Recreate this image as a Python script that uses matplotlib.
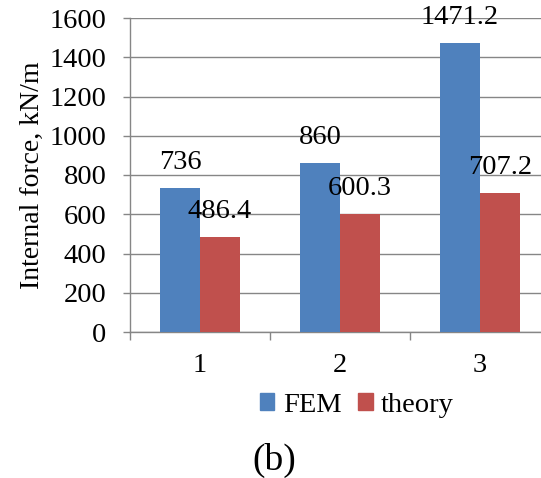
import numpy as np
import matplotlib.pyplot as plt
from matplotlib.patches import Patch

# data
categories = ['1', '2', '3']
fem = [736, 860, 1471.2]
theory = [486.4, 600.3, 707.2]
fem_labels = ['736', '860', '1471.2']
theory_labels = ['486.4', '600.3', '707.2']
yticks = [0, 200, 400, 600, 800, 1000, 1200, 1400, 1600]

plt.rcParams['font.family'] = ['Liberation Serif', 'DejaVu Serif']

blue = '#4F81BD'
red = '#C0504D'
gray = '#868686'
fs = 20.5

fig = plt.figure(figsize=(5.41, 4.78), dpi=100)
# plot area runs a bit past the right edge of the picture, as in the source
ax = fig.add_axes([130 / 541, 146 / 478, 420 / 541, 314 / 478])

x = np.arange(len(categories))
w = 0.286
ax.bar(x - w / 2, fem, w, color=blue, zorder=3)
ax.bar(x + w / 2, theory, w, color=red, zorder=3)

for xi, v, s in zip(x, fem, fem_labels):
    ax.text(xi - w / 2, v + 130, s, ha='center', va='center', fontsize=fs, zorder=4)
for xi, v, s in zip(x, theory, theory_labels):
    ax.text(xi + w / 2, v + 130, s, ha='center', va='center', fontsize=fs, zorder=4)

ax.set_xlim(-0.5, 2.5)
ax.set_ylim(0, 1600)
ax.set_yticks(yticks)
ax.set_xticks(x)
ax.set_xticklabels(categories)
ax.set_xticks([-0.5, 0.5, 1.5, 2.5], minor=True)
ax.tick_params(axis='x', which='major', length=0, labelsize=fs, pad=15)
ax.tick_params(axis='x', which='minor', length=6, color=gray, width=1)
ax.tick_params(axis='y', length=5, color=gray, width=1, labelsize=fs, pad=12)
ax.yaxis.grid(True, color=gray, linewidth=1, zorder=0)

for side in ['top', 'right']:
    ax.spines[side].set_visible(False)
for side in ['left', 'bottom']:
    ax.spines[side].set_color(gray)
    ax.spines[side].set_linewidth(1)

ax.set_ylabel('Internal force, kN/m', fontsize=20)
ax.yaxis.set_label_coords(-85 / 420, 0.5)

handles = [Patch(color=blue, label='FEM'), Patch(color=red, label='theory')]
fig.legend(handles=handles, loc='center', bbox_to_anchor=(357 / 541, 1 - 405 / 478), ncol=2,
           frameon=False, fontsize=fs, handlelength=0.5, handleheight=0.5,
           handletextpad=0.3, columnspacing=0.6)

fig.text(274 / 541, 1 - 460 / 478, '(b)', ha='center', va='center', fontsize=27)

fig.savefig('out.png', dpi=100)
